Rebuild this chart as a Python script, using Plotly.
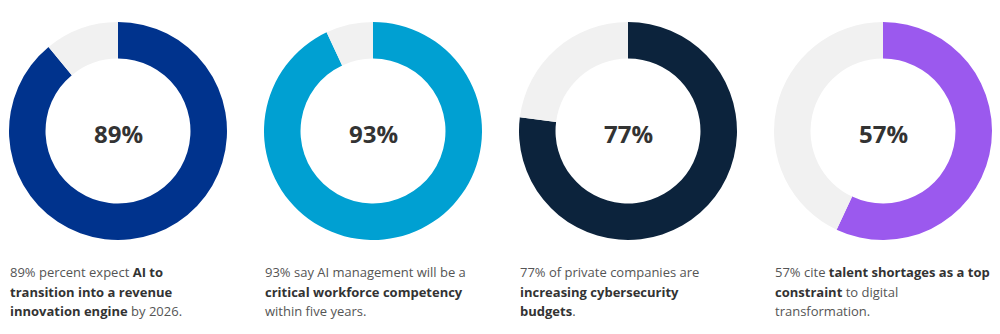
import plotly.graph_objects as go

# Survey results shown as ring charts
shares = [89, 93, 77, 57]
ring_colors = ["#00338D", "#00A0D2", "#0C233C", "#9B59EE"]
rest_color = "#F1F1F1"

# Caption under each ring (three lines; <b> marks the emphasised words)
captions = [
    ["89% percent expect <b>AI to</b>",
     "<b>transition into a revenue</b>",
     "<b>innovation engine</b> by 2026."],
    ["93% say AI management will be a",
     "<b>critical workforce competency</b>",
     "within five years."],
    ["77% of private companies are",
     "<b>increasing cybersecurity</b>",
     "<b>budgets</b>."],
    ["57% cite <b>talent shortages as a top</b>",
     "<b>constraint</b> to digital",
     "transformation."],
]

W, H = 1000, 334
ring_left = [9, 264, 519, 774]   # left edge of each ring, px
ring_size = 218                  # ring diameter, px
ring_top = 22                    # px from top
line_y = [272, 292, 311]         # caption line centres, px from top

fig = go.Figure()
annotations = []
for i, share in enumerate(shares):
    x0 = ring_left[i] / W
    x1 = (ring_left[i] + ring_size) / W
    y1 = 1 - ring_top / H
    y0 = 1 - (ring_top + ring_size) / H
    fig.add_trace(go.Pie(
        values=[share, 100 - share],
        labels=["yes", "no"],
        marker=dict(colors=[ring_colors[i], rest_color], line=dict(width=0)),
        hole=0.665,
        sort=False,
        direction="clockwise",
        rotation=0,
        textinfo="none",
        hoverinfo="skip",
        showlegend=False,
        domain=dict(x=[x0, x1], y=[y0, y1]),
    ))
    annotations.append(dict(
        x=(x0 + x1) / 2, y=1 - 133.5 / H, xref="paper", yref="paper",
        text=f"<b>{share}%</b>", showarrow=False,
        xanchor="center", yanchor="middle",
        font=dict(family="Open Sans", size=24, color="#333333"),
    ))
    for j, line in enumerate(captions[i]):
        annotations.append(dict(
            x=(ring_left[i] - 1) / W, y=1 - line_y[j] / H,
            xref="paper", yref="paper",
            text=line.replace("<b>", "<b style='color:#333333'>"),
            showarrow=False, xanchor="left", yanchor="middle", align="left",
            font=dict(family="Open Sans", size=13, color="#555555"),
        ))

fig.update_layout(
    width=W, height=H,
    margin=dict(l=0, r=0, t=0, b=0),
    paper_bgcolor="white", plot_bgcolor="white",
    annotations=annotations,
)

fig.write_html("out.html")
